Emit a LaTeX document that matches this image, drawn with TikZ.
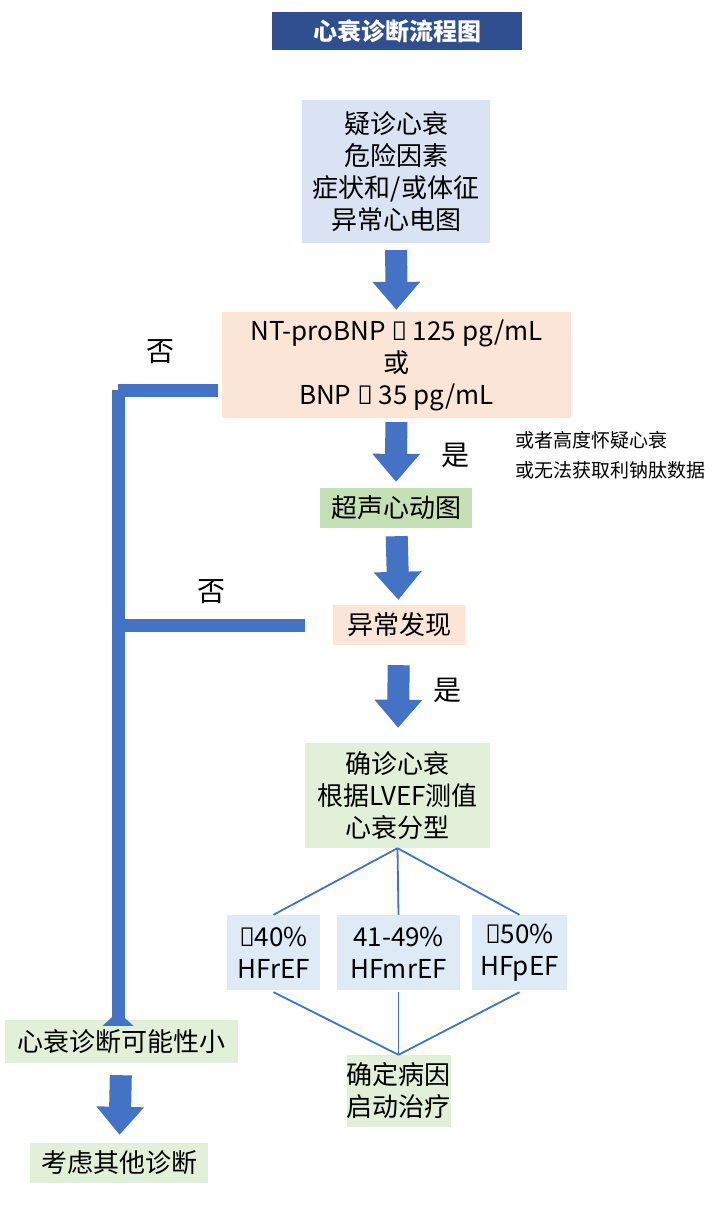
\documentclass[tikz,border=0pt]{standalone}
\usepackage{fontspec}
\setmainfont{Noto Sans CJK SC}
\newfontfamily\symfont{Noto Sans}
\newcommand{\geqs}{{\symfont ≥}}
\newcommand{\leqs}{{\symfont ≤}}
\usetikzlibrary{arrows.meta,positioning}
\definecolor{titleblue}{HTML}{2F4F8F}
\definecolor{arrowblue}{HTML}{4472C4}
\definecolor{paleblue}{HTML}{DAE3F3}
\definecolor{peach}{HTML}{FBE5D6}
\definecolor{midgreen}{HTML}{C5E0B4}
\definecolor{palegreen}{HTML}{E2F0D9}
\definecolor{skyblue}{HTML}{DEEBF7}
\begin{document}
\begin{tikzpicture}[x=1pt,y=-1pt,
    box/.style={fill=#1,align=center,inner sep=0pt,font=\fontsize{26}{32}\selectfont},
    bigarrow/.style={arrowblue,line width=22pt,-{Triangle[width=46pt,length=28pt]}},
    bar/.style={arrowblue,line width=13pt},
    thin/.style={arrowblue,line width=1.8pt},
    yesno/.style={font=\fontsize{28}{32}\selectfont}
]
  \useasboundingbox[fill=white] (0,0) rectangle (716,1220);

  \node[box=titleblue,minimum width=250pt,minimum height=38pt,text=white,font=\fontsize{24}{26}\selectfont\bfseries] (title) at (397,31) {心衰诊断流程图};

  \node[box=paleblue,minimum width=188pt,minimum height=143pt] (suspect) at (396,171.5) {疑诊心衰\\危险因素\\症状和/或体征\\异常心电图};
  \node[box=peach,minimum width=349pt,minimum height=106pt] (bnp) at (396.5,365) {NT-proBNP \geqs{} 125 pg/mL\\或\\BNP \geqs{} 35 pg/mL};
  \node[box=midgreen,minimum width=152pt,minimum height=40pt] (echo) at (396,508) {超声心动图};
  \node[box=peach,minimum width=132pt,minimum height=40pt] (abn) at (399,625) {异常发现};
  \node[box=palegreen,minimum width=185pt,minimum height=105pt] (hf) at (397.5,795.5) {确诊心衰\\根据LVEF测值\\心衰分型};
  \node[box=skyblue,minimum width=93pt,minimum height=75pt] (ref) at (273.5,952.5) {\leqs40\%\\HFrEF};
  \node[box=skyblue,minimum width=123pt,minimum height=75pt] (mref) at (398.5,952.5) {41-49\%\\HFmrEF};
  \node[box=skyblue,minimum width=95pt,minimum height=75pt] (pef) at (519.5,952.5) {\geqs50\%\\HFpEF};
  \node[box=palegreen,minimum width=103pt,minimum height=72pt] (cause) at (398.5,1091) {确定病因\\启动治疗};
  \node[box=palegreen,minimum width=233pt,minimum height=43pt] (unlikely) at (121.5,1041.5) {心衰诊断可能性小};
  \node[box=palegreen,minimum width=178pt,minimum height=40pt] (other) at (119,1163) {考虑其他诊断};

  \node[yesno] (no1) at (160,352) {否};
  \node[yesno] (yes1) at (455,455) {是};
  \node[yesno] (no2) at (211,592) {否};
  \node[yesno] (yes2) at (447,690) {是};
  \node[anchor=west,align=left,font=\fontsize{19}{30}\selectfont] (note) at (512,455) {或者高度怀疑心衰\\或无法获取利钠肽数据};

  \draw[bigarrow,shorten <=7pt,shorten >=2pt] (suspect) -- (bnp);
  \draw[bigarrow,shorten <=4pt,shorten >=6pt] (bnp) -- (echo);
  \draw[bigarrow,shorten <=8pt,shorten >=5pt] (echo) -- (abn);
  \draw[bigarrow,shorten <=20pt,shorten >=15pt] (abn) -- (hf);
  \draw[bigarrow,shorten <=12pt,shorten >=8pt] (unlikely) -- (other);

  \coordinate (barend1) at (218,390);
  \coordinate (barend2) at (305,625);
  \coordinate (corner) at (118,390);
  \draw[bar] (barend1) -- (corner);
  \draw[bar,-{Triangle[width=30pt,length=14pt]}] (corner) -- (corner|-unlikely.north) ++(0,-8);
  \draw[bar] (barend2) -- (corner|-barend2);

  \foreach \Leaf in {ref,mref,pef} {
    \draw[thin] (hf.south) -- (\Leaf.north);
    \draw[thin] (\Leaf.south) ++(0,2) -- (cause.north);
  }
\end{tikzpicture}
\end{document}
